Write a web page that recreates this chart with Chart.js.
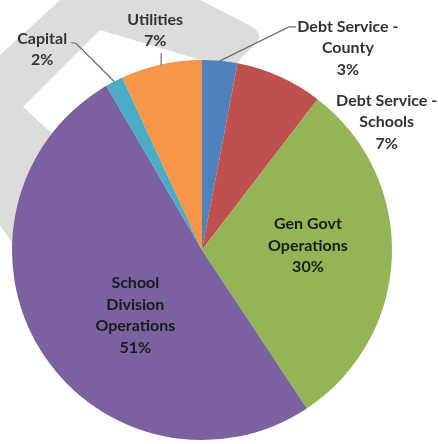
<!DOCTYPE html>
<html>
<head>
<meta charset="utf-8">
<script src="https://cdn.jsdelivr.net/npm/chart.js@4.4.1/dist/chart.umd.min.js"></script>
<style>
    html, body { margin: 0; padding: 0; background: #fff; }
    #wrap { position: relative; width: 438px; height: 444px; }
</style>
</head>
<body>
<div id="wrap"><canvas id="budget-pie"></canvas></div>
<script>
// slices, clockwise from 12 o'clock
const categories = [
    ['Debt Service -', 'County'],
    ['Debt Service -', 'Schools'],
    ['Gen Govt', 'Operations'],
    ['School', 'Division', 'Operations'],
    ['Capital'],
    ['Utilities']
];
const shares = [3.0, 7.4, 30.3, 50.9, 1.5, 6.9];
const sliceColors = ['#4f81bd', '#c0504d', '#93b556', '#7b61a0', '#4bacc6', '#f79646'];

// label placement: 1 = anchored on the rim, 0.5 = inside the slice, plus a nudge
const labelRadius = [1, 1, 0.5, 0.5, 1, 1];
const labelNudge = [[128, -34], [107, 24], [11, -29], [14, -17], [-72, -43], [-6, -45]];
const leaders = [
    [[0, 0], [69, -34], [76, -34]],
    null,
    null,
    null,
    [[0, 0], [-38, -38], [-43, -39]],
    [[0, 1], [0, -11]]
];

const total = shares.reduce((a, b) => a + b, 0);

// faint grey watermark behind the chart
const watermark = {
    id: 'watermark',
    beforeDraw(chart) {
        const ctx = chart.ctx;
        ctx.save();
        ctx.fillStyle = '#dcdcdc';
        ctx.beginPath();
        ctx.moveTo(60, 0);
        ctx.lineTo(200, 0);
        ctx.lineTo(249, 25);
        ctx.quadraticCurveTo(266, 34, 255, 44);
        ctx.lineTo(228, 72);
        ctx.lineTo(214, 64);
        ctx.lineTo(100, 30);
        ctx.lineTo(23, 107);
        ctx.lineTo(45, 127);
        ctx.lineTo(70, 150);
        ctx.lineTo(30, 270);
        ctx.lineTo(0, 225);
        ctx.lineTo(0, 55);
        ctx.closePath();
        ctx.fill();
        ctx.restore();
    }
};

const sliceLabels = {
    id: 'sliceLabels',
    afterDatasetsDraw(chart) {
        const ctx = chart.ctx;
        const arcs = chart.getDatasetMeta(0).data;
        ctx.save();
        ctx.font = 'bold 16px Lato';
        ctx.textAlign = 'center';
        ctx.textBaseline = 'middle';
        arcs.forEach((arc, i) => {
            const mid = (arc.startAngle + arc.endAngle) / 2;
            const rim = { x: arc.x + Math.cos(mid) * arc.outerRadius, y: arc.y + Math.sin(mid) * arc.outerRadius };
            const r = arc.outerRadius * labelRadius[i];
            const ax = arc.x + Math.cos(mid) * r + labelNudge[i][0];
            const ay = arc.y + Math.sin(mid) * r + labelNudge[i][1];

            if (leaders[i]) {
                ctx.strokeStyle = '#6b6b6b';
                ctx.lineWidth = 1.2;
                ctx.beginPath();
                leaders[i].forEach((p, k) => {
                    if (k === 0) ctx.moveTo(rim.x + p[0], rim.y + p[1]);
                    else ctx.lineTo(rim.x + p[0], rim.y + p[1]);
                });
                ctx.stroke();
            }

            const lines = categories[i].concat([Math.round(shares[i] / total * 100) + '%']);
            ctx.fillStyle = labelRadius[i] < 1 ? '#1a1a1a' : '#333333';
            lines.forEach((txt, k) => {
                ctx.fillText(txt, ax, ay + k * 21.5);
            });
        });
        ctx.restore();
    }
};

const ctx = document.querySelector('#budget-pie').getContext('2d');
new Chart(ctx, {
    type: 'pie',
    data: {
        labels: categories,
        datasets: [{
            data: shares,
            backgroundColor: sliceColors,
            borderWidth: 0,
            hoverOffset: 0
        }]
    },
    options: {
        responsive: true,
        maintainAspectRatio: false,
        animation: false,
        layout: {
            padding: { left: 12, right: 46, top: 60, bottom: 4 }
        },
        plugins: {
            legend: { display: false },
            tooltip: { enabled: false }
        }
    },
    plugins: [watermark, sliceLabels]
});
</script>
</body>
</html>
